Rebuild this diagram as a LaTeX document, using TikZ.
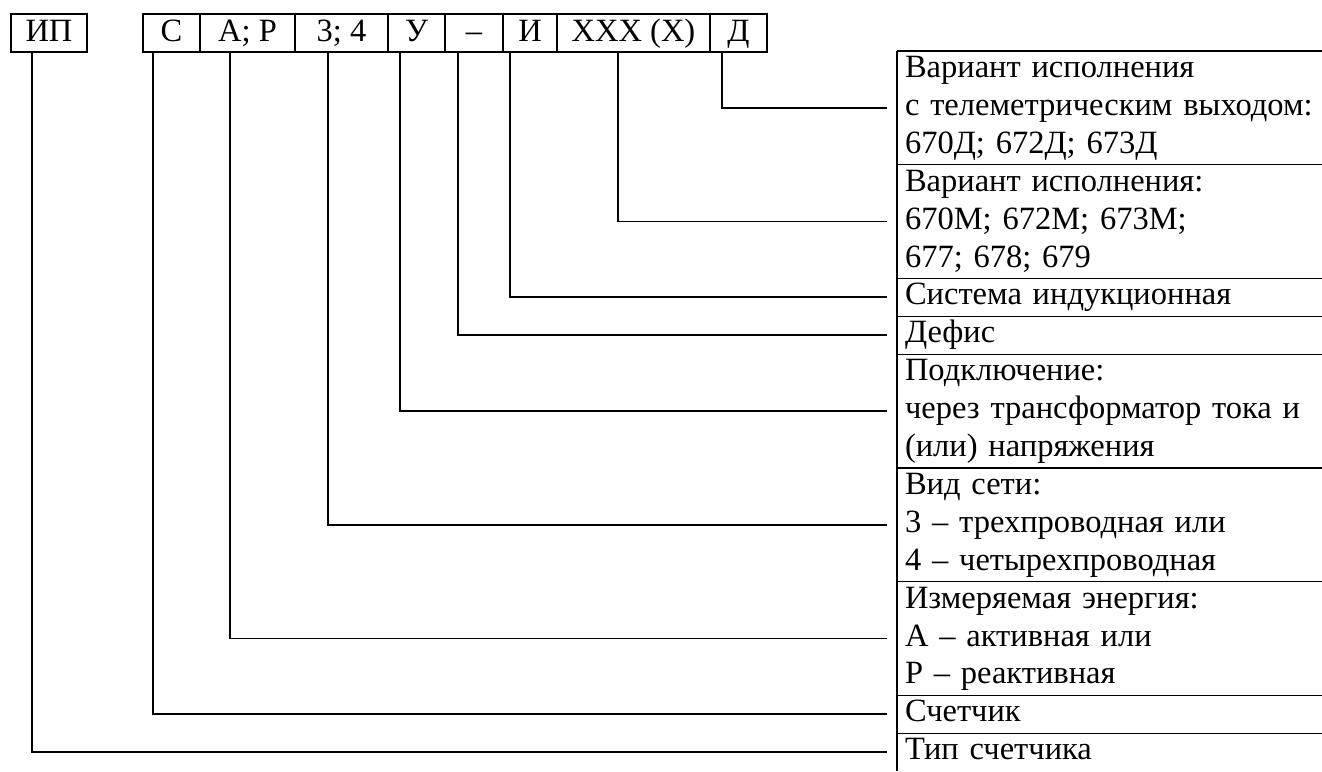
\documentclass[tikz,border=0pt]{standalone}
\usepackage{fontspec}
\setmainfont{Liberation Serif}
\usepackage{tikz}
\usetikzlibrary{positioning}

\begin{document}
\begin{tikzpicture}[x=1pt, y=-1pt,
  font=\fontsize{32.5}{37.9}\selectfont,
  codebox/.style={draw, line width=1.3pt, inner sep=0pt, outer sep=0pt, minimum height=38pt,
    text height=23pt, text depth=7pt, anchor=north west},
  rowbox/.style={inner xsep=8pt, inner ysep=0pt, outer sep=0pt, text width=409pt, align=left, anchor=north west,
    execute at begin node=\strut, execute at end node=\strut},
  frame/.style={line width=1.3pt},
  lead/.style={line width=1.8pt}]
  \useasboundingbox (0,0) rectangle (1322,771);

  \node[codebox, minimum width=76pt] (ip) at (11,14) {ИП};
  \node[codebox, minimum width=57pt] (c) at (143,14) {С};
  \node[codebox, minimum width=95pt, right=0pt of c] (ar) {А; Р};
  \node[codebox, minimum width=93pt, right=0pt of ar] (net34) {3; 4};
  \node[codebox, minimum width=57pt, right=0pt of net34] (u) {У};
  \node[codebox, minimum width=58pt, right=0pt of u] (dash) {–};
  \node[codebox, minimum width=54pt, right=0pt of dash] (i) {И};
  \node[codebox, minimum width=153pt, right=0pt of i] (xxx) {ХХХ (Х)};
  \node[codebox, minimum width=57pt, right=0pt of xxx] (d) {Д};

  \node[rowbox, minimum height=113.7pt] (var1) at (897,51) {Вариант исполнения\\с телеметрическим выходом:\\670Д; 672Д; 673Д};
  \node[rowbox, minimum height=113.7pt, below=0pt of var1] (var2) {Вариант исполнения:\\670М; 672М; 673М;\\677; 678; 679};
  \node[rowbox, minimum height=37.9pt, below=0pt of var2] (ind) {Система индукционная};
  \node[rowbox, minimum height=37.9pt, below=0pt of ind] (hyph) {Дефис};
  \node[rowbox, minimum height=113.7pt, below=0pt of hyph] (conn) {Подключение:\\через трансформатор тока и\\(или) напряжения};
  \node[rowbox, minimum height=113.7pt, below=0pt of conn] (net) {Вид сети:\\3 – трехпроводная или\\4 – четырехпроводная};
  \node[rowbox, minimum height=113.7pt, below=0pt of net] (energy) {Измеряемая энергия:\\А – активная или\\Р – реактивная};
  \node[rowbox, minimum height=37.9pt, below=0pt of energy] (cnt) {Счетчик};
  \node[rowbox, minimum height=37.9pt, below=0pt of cnt] (type) {Тип счетчика};

  \draw[frame] (var1.north west) -- (var1.north east);
  \foreach \r in {var1, var2, ind, hyph, conn, net, energy, cnt}
    \draw[frame] (\r.south west) -- (\r.south east);
  \draw[frame] (var1.north west) -- (type.south west);

  \draw[lead] ([xshift=12pt]d.south west) |- ([xshift=-10pt]var1.west);
  \draw[lead] ([xshift=61pt]xxx.south west) |- ([xshift=-10pt]var2.west);
  \draw[lead] ([xshift=7pt]i.south west) |- ([xshift=-10pt]ind.west);
  \draw[lead] ([xshift=13pt]dash.south west) |- ([xshift=-10pt]hyph.west);
  \draw[lead] ([xshift=12pt]u.south west) |- ([xshift=-10pt]conn.west);
  \draw[lead] ([xshift=33pt]net34.south west) |- ([xshift=-10pt]net.west);
  \draw[lead] ([xshift=30pt]ar.south west) |- ([xshift=-10pt]energy.west);
  \draw[lead] ([xshift=10pt]c.south west) |- ([xshift=-10pt]cnt.west);
  \draw[lead] ([xshift=21pt]ip.south west) |- ([xshift=-10pt]type.west);
\end{tikzpicture}
\end{document}
